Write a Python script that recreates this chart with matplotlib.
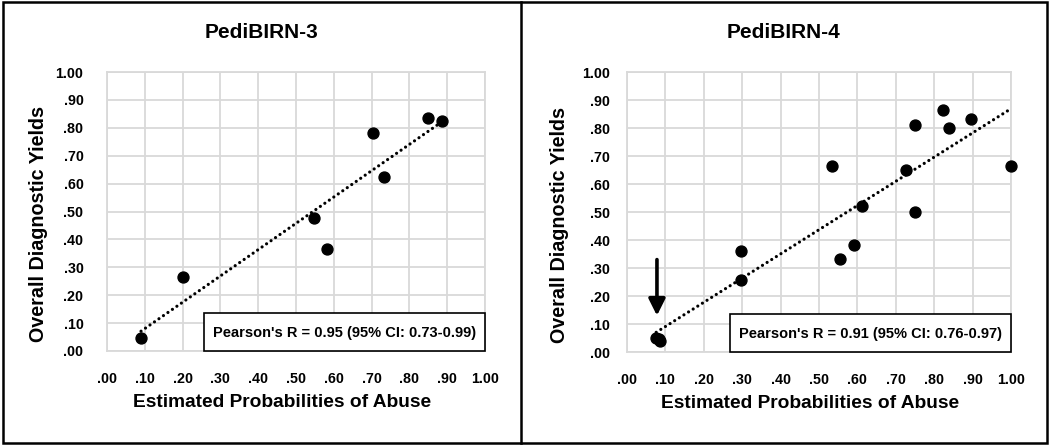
import numpy as np
import matplotlib
matplotlib.use("Agg")
from matplotlib import pyplot as plt
from matplotlib.patches import Rectangle
from matplotlib.ticker import FuncFormatter

# data
titles = ["PediBIRN-3", "PediBIRN-4"]
x_p3 = [0.09, 0.20, 0.548, 0.581, 0.703, 0.734, 0.850, 0.885]
y_p3 = [0.045, 0.266, 0.478, 0.367, 0.780, 0.623, 0.835, 0.824]
x_p4 = [0.076, 0.086, 0.083, 0.296, 0.296, 0.535, 0.555, 0.591, 0.613,
        0.727, 0.750, 0.750, 0.822, 0.839, 0.896, 1.000]
y_p4 = [0.050, 0.040, 0.045, 0.360, 0.257, 0.665, 0.333, 0.382, 0.523,
        0.650, 0.810, 0.500, 0.866, 0.800, 0.833, 0.665]
pearson = ["Pearson's R = 0.95 (95% CI: 0.73-0.99)",
           "Pearson's R = 0.91 (95% CI: 0.76-0.97)"]
ticks = np.arange(0, 1.01, 0.1)

plt.rcParams["font.family"] = ["Liberation Sans", "DejaVu Sans"]
plt.rcParams["font.weight"] = "bold"


def fmt(v, pos):
    s = "%.2f" % v
    return s[1:] if s.startswith("0") else s


fig = plt.figure(figsize=(10.5, 4.47), dpi=100)

axes_pos = [[107 / 1050, 1 - 351 / 447, 378 / 1050, 279 / 447],
            [627 / 1050, 1 - 352 / 447, 384 / 1050, 280 / 447]]
panel_cx = [262 / 1050, 784 / 1050]
box_x0 = [0.257, 0.268]
ypad = [17, 12]
xlab_x = [0.463, 0.477]
ylab_x = [-0.156, -0.151]
datasets = [(x_p3, y_p3), (x_p4, y_p4)]

for i in range(2):
    ax = fig.add_axes(axes_pos[i])
    xs, ys = datasets[i]
    xs = np.asarray(xs)
    ys = np.asarray(ys)
    ax.set_xlim(0, 1)
    ax.set_ylim(0, 1)
    ax.set_xticks(ticks)
    ax.set_yticks(ticks)
    ax.xaxis.set_major_formatter(FuncFormatter(fmt))
    ax.yaxis.set_major_formatter(FuncFormatter(fmt))
    ax.tick_params(length=0, labelsize=10.3)
    ax.tick_params(axis="x", pad=15)
    ax.tick_params(axis="y", pad=ypad[i])
    for lab in ax.get_xticklabels() + ax.get_yticklabels():
        lab.set_fontweight("bold")
    ax.grid(True, color="#d9d9d9", linewidth=1.3)
    ax.set_axisbelow(True)
    for sp in ax.spines.values():
        sp.set_color("#d9d9d9")
        sp.set_linewidth(1.3)

    # linear trendline
    m, b = np.polyfit(xs, ys, 1)
    xl = np.array([xs.min(), xs.max()])
    ax.plot(xl, m * xl + b, color="black", linestyle=(0, (0.01, 1.7)),
            linewidth=2.3, dash_capstyle="round", zorder=3)
    ax.scatter(xs, ys, s=62, color="black", zorder=4, clip_on=False)

    ax.set_xlabel("Estimated Probabilities of Abuse", fontsize=13.8,
                  fontweight="bold", va="top")
    ax.xaxis.set_label_coords(xlab_x[i], -0.155)
    ax.set_ylabel("Overall Diagnostic Yields", fontsize=14.2,
                  fontweight="bold")
    ax.yaxis.set_label_coords(ylab_x[i], 0.455)

    ax.text((box_x0[i] + 1) / 2, 0.066, pearson[i], transform=ax.transAxes,
            ha="center", va="center", fontsize=10.5, fontweight="bold",
            zorder=6)
    ax.add_patch(Rectangle((box_x0[i], 0), 1 - box_x0[i], 0.136,
                           transform=ax.transAxes, facecolor="white",
                           edgecolor="black", linewidth=1.2, zorder=5,
                           clip_on=False))

    if i == 1:
        ax.annotate("", xy=(0.078, 0.13), xytext=(0.078, 0.33),
                    arrowprops=dict(arrowstyle="-|>,head_width=0.5,head_length=1.0",
                                    color="black", linewidth=2.6,
                                    shrinkA=0, shrinkB=0))

    fig.text(panel_cx[i], 1 - 33 / 447, titles[i], ha="center", va="center",
             fontsize=15, fontweight="bold")

# panel borders
fig.add_artist(Rectangle((3 / 1050, 4 / 447), 1044 / 1050, 441 / 447,
                         transform=fig.transFigure, fill=False,
                         edgecolor="black", linewidth=1.8))
fig.add_artist(plt.Line2D([521 / 1050, 521 / 1050], [4 / 447, 445 / 447],
                          transform=fig.transFigure, color="black",
                          linewidth=1.8))

fig.savefig("out.png", dpi=100)
